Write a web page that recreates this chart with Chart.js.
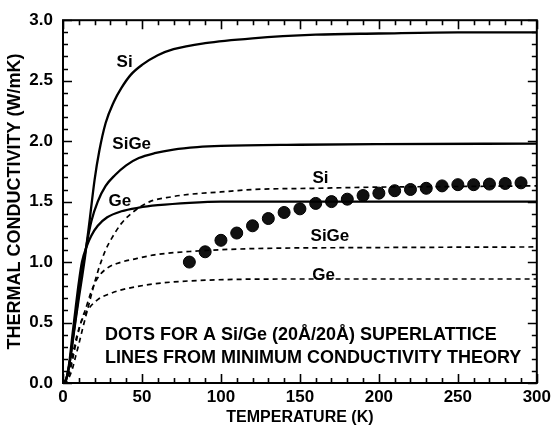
<!DOCTYPE html>
<html>
<head>
<meta charset="utf-8">
<script src="https://cdn.jsdelivr.net/npm/chart.js@4/dist/chart.umd.min.js"></script>
<style>
  html, body { margin: 0; padding: 0; background: #fff; }
  #wrap { width: 555px; height: 431px; }
</style>
</head>
<body>
<div id="wrap"><canvas id="c" width="555" height="431"></canvas></div>
<script>
// ---- data ----
const xTickValues = [0, 50, 100, 150, 200, 250, 300];
const yTickValues = [0, 0.5, 1.0, 1.5, 2.0, 2.5, 3.0];

// superlattice measurements (dots)
const dotT = [80, 90, 100, 110, 120, 130, 140, 150, 160, 170, 180, 190, 200, 210, 220, 230, 240, 250, 260, 270, 280, 290];
const dotK = [1.00, 1.085, 1.18, 1.24, 1.30, 1.36, 1.41, 1.44, 1.485, 1.50, 1.52, 1.55, 1.57, 1.59, 1.60, 1.61, 1.63, 1.64, 1.64, 1.645, 1.65, 1.655];

// minimum conductivity theory, solid lines
const siSolidT = [0, 2, 4, 6, 8, 10, 12, 14, 17, 20, 23, 27, 32, 37, 43, 50, 60, 70, 90, 120, 160, 200, 250, 300];
const siSolidK = [0, 0.03, 0.15, 0.33, 0.52, 0.70, 0.87, 1.05, 1.36, 1.68, 1.92, 2.15, 2.32, 2.44, 2.55, 2.63, 2.71, 2.76, 2.81, 2.85, 2.88, 2.89, 2.90, 2.90];
const sigeSolidT = [0, 2, 4, 6, 8, 10, 12, 15, 18, 22, 27, 33, 40, 48, 58, 70, 85, 100, 150, 200, 300];
const sigeSolidK = [0, 0.03, 0.15, 0.34, 0.54, 0.74, 0.92, 1.15, 1.34, 1.50, 1.63, 1.72, 1.80, 1.86, 1.90, 1.93, 1.95, 1.96, 1.97, 1.975, 1.98];
const geSolidT = [0, 2, 4, 6, 8, 10, 12, 15, 18, 22, 28, 37, 48, 60, 80, 100, 150, 300];
const geSolidK = [0, 0.03, 0.17, 0.40, 0.62, 0.83, 1.00, 1.13, 1.22, 1.30, 1.37, 1.42, 1.45, 1.47, 1.49, 1.50, 1.50, 1.50];

// dashed lines
const siDashT = [0, 2, 4, 6, 8, 10, 13, 16, 20, 23, 27, 31, 37, 45, 55, 69, 80, 100, 120, 160, 200, 250, 300];
const siDashK = [0, 0.01, 0.05, 0.12, 0.22, 0.32, 0.48, 0.63, 0.83, 0.96, 1.10, 1.20, 1.32, 1.42, 1.50, 1.54, 1.56, 1.58, 1.60, 1.61, 1.62, 1.625, 1.63];
const sigeDashT = [0, 2, 4, 6, 9, 12, 14, 18, 22, 28, 37, 47, 58, 83, 117, 200, 300];
const sigeDashK = [0, 0.02, 0.08, 0.19, 0.38, 0.53, 0.60, 0.76, 0.87, 0.95, 1.00, 1.03, 1.06, 1.09, 1.11, 1.12, 1.125];
const geDashT = [0, 2, 4, 6, 9, 12, 16, 22, 30, 37, 58, 90, 150, 300];
const geDashK = [0, 0.03, 0.11, 0.23, 0.40, 0.52, 0.61, 0.69, 0.74, 0.77, 0.82, 0.85, 0.86, 0.86];

// text labels inside the plot (anchored in data coordinates)
const labelText = ['Si', 'SiGe', 'Ge', 'Si', 'SiGe', 'Ge'];
const labelT = [39, 43.5, 36, 163, 169, 165];
const labelK = [2.65, 1.97, 1.50, 1.69, 1.21, 0.89];
const noteLines = ['DOTS FOR A Si/Ge (20Å/20Å) SUPERLATTICE', 'LINES FROM MINIMUM CONDUCTIVITY THEORY'];
const noteT = 26.6;
const noteK = [0.40, 0.205];

// ---- build ----
const FONT = "'Liberation Sans', Arial, Helvetica, sans-serif";
const pts = (xs, ys) => xs.map((x, i) => ({ x: x, y: ys[i] }));

function lineSet(xs, ys, dashed) {
  return {
    data: pts(xs, ys),
    showLine: true,
    borderColor: '#000',
    borderWidth: dashed ? 1.7 : 2.3,
    borderDash: dashed ? [5, 4] : [],
    pointRadius: 0,
    cubicInterpolationMode: 'monotone',
    fill: false
  };
}

const frameTicks = {
  id: 'frameTicks',
  afterDraw(chart) {
    const ctx = chart.ctx;
    const a = chart.chartArea;
    const xs = chart.scales.x, ys = chart.scales.y;
    ctx.save();
    ctx.strokeStyle = '#000';
    ctx.lineWidth = 2;
    ctx.strokeRect(a.left, a.top, a.right - a.left, a.bottom - a.top);
    ctx.lineWidth = 1.6;
    ctx.beginPath();
    for (let v = 0; v <= 300.001; v += 10) {
      const major = Math.abs(v / 50 - Math.round(v / 50)) < 1e-6;
      const L = major ? 9 : 5;
      const px = Math.round(xs.getPixelForValue(v)) + 0.5;
      ctx.moveTo(px, a.bottom); ctx.lineTo(px, a.bottom - L);
      ctx.moveTo(px, a.top); ctx.lineTo(px, a.top + L);
    }
    for (let i = 0; i <= 30; i++) {
      const v = i / 10;
      const major = i % 5 === 0;
      const L = major ? 9 : 5;
      const py = Math.round(ys.getPixelForValue(v)) + 0.5;
      ctx.moveTo(a.left, py); ctx.lineTo(a.left + L, py);
      ctx.moveTo(a.right, py); ctx.lineTo(a.right - L, py);
    }
    ctx.stroke();

    ctx.fillStyle = '#000';
    ctx.textAlign = 'center';
    ctx.textBaseline = 'middle';
    ctx.font = 'bold 17px ' + FONT;
    labelText.forEach((t, i) => {
      ctx.fillText(t, xs.getPixelForValue(labelT[i]), ys.getPixelForValue(labelK[i]));
    });
    ctx.textAlign = 'left';
    ctx.font = 'bold 18px ' + FONT;
    noteLines.forEach((t, i) => {
      ctx.fillText(t, xs.getPixelForValue(noteT), ys.getPixelForValue(noteK[i]));
    });
    ctx.restore();
  }
};

new Chart(document.getElementById('c'), {
  type: 'scatter',
  data: {
    datasets: [
      lineSet(siSolidT, siSolidK, false),
      lineSet(sigeSolidT, sigeSolidK, false),
      lineSet(geSolidT, geSolidK, false),
      lineSet(siDashT, siDashK, true),
      lineSet(sigeDashT, sigeDashK, true),
      lineSet(geDashT, geDashK, true),
      {
        data: pts(dotT, dotK),
        showLine: false,
        pointRadius: 6,
        pointBackgroundColor: '#111',
        pointBorderColor: '#000',
        pointBorderWidth: 1
      }
    ]
  },
  options: {
    responsive: false,
    animation: false,
    events: [],
    layout: { padding: { top: 20, right: 18, left: 0, bottom: 0 } },
    plugins: { legend: { display: false }, tooltip: { enabled: false } },
    scales: {
      x: {
        type: 'linear', min: 0, max: 300,
        afterBuildTicks: s => { s.ticks = xTickValues.map(v => ({ value: v })); },
        afterFit: s => { s.height = 48; },
        grid: { display: false, drawTicks: false },
        border: { display: false },
        ticks: { color: '#000', padding: 4, font: { family: FONT, size: 17, weight: 'bold' }, maxRotation: 0 },
        title: { display: true, text: 'TEMPERATURE (K)', color: '#000', font: { family: FONT, size: 16, weight: 'bold' }, padding: { top: 0, bottom: 4 } }
      },
      y: {
        type: 'linear', min: 0, max: 3,
        afterBuildTicks: s => { s.ticks = yTickValues.map(v => ({ value: v })); },
        afterFit: s => { s.width = 63; },
        grid: { display: false, drawTicks: false },
        border: { display: false },
        ticks: { color: '#000', padding: 10, font: { family: FONT, size: 17, weight: 'bold' }, callback: v => Number(v).toFixed(1) },
        title: { display: true, text: 'THERMAL CONDUCTIVITY (W/mK)', color: '#000', font: { family: FONT, size: 18, weight: 'bold' }, padding: { top: 4, bottom: 0 } }
      }
    }
  },
  plugins: [frameTicks]
});
</script>
</body>
</html>
